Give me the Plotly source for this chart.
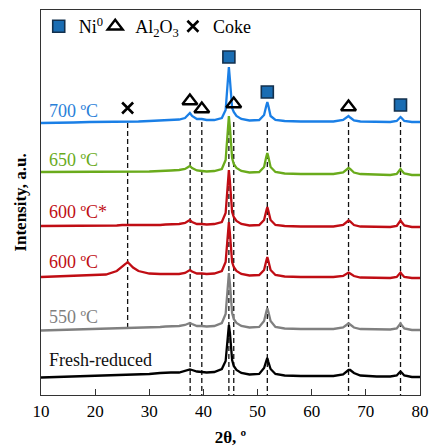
import plotly.graph_objects as go

# 2-theta sampling points (degrees)
two_theta = [10, 13, 16, 19, 22, 24, 25, 25.6, 26, 26.4, 27, 28, 30, 32, 33, 34, 35.5, 36.6, 37.2, 37.5,
             37.9, 38.8, 39.7, 40.6, 42, 43.4, 44.1, 44.5, 44.7, 44.9, 45.3, 45.6, 46.1, 47, 48.5, 50.3,
             51.2, 51.6, 51.8, 52.0, 52.4, 53.3, 55, 58, 61, 64, 65.8, 66.5, 66.8, 67.1, 67.8, 69, 72,
             74.5, 75.7, 76.2, 76.4, 76.6, 77.1, 78.5, 80]

# Stacked intensities (a.u., offset for display)
i_700 = [272, 272, 272.5, 273, 273, 273, 273, 273, 273, 273, 273, 273.5, 274, 274.5, 275, 275, 275.5, 277, 280, 282,
         279, 276, 276, 275, 275, 277, 285, 315, 328, 315, 287, 283, 279, 276, 274.5, 275,
         280, 289, 293, 289, 279, 275, 274, 273.5, 273.5, 273.5, 275, 278, 279, 277.5, 274.5, 273.5, 273,
         273, 274, 277, 278, 277, 274, 273, 273]
i_650 = [223, 223, 223, 223, 223, 223, 223, 223, 223, 223, 223, 223, 223.5, 224, 224, 224.5, 225, 226, 228, 229,
         227, 224.5, 224, 223.5, 224, 226, 235, 265, 279, 267, 237, 231, 227, 224, 222.5, 223,
         228, 238, 242, 238, 228, 223, 221.5, 221, 221, 221, 222.5, 225.5, 227, 226, 222.5, 221, 220.5,
         220, 221, 224.5, 226, 224.5, 221.5, 220, 220]
i_600s = [169, 169, 169, 169, 169, 169.5, 170, 170, 170, 170, 169.5, 169.5, 170, 170, 170.5, 170.5, 171, 172, 174, 175,
          173, 171, 171, 170.5, 171, 173, 182, 210, 225, 213, 183, 178, 174, 171, 169.5, 170,
          175, 184, 188, 184, 175, 170, 169, 168.5, 168.5, 168.5, 170, 173, 174.5, 173.5, 170, 168.5, 168,
          168, 169, 173, 174.5, 173, 169.5, 168, 168]
i_600 = [118, 118.5, 119, 119.5, 120.5, 124, 128, 131, 133, 131, 127.5, 124, 121.5, 121, 121, 121, 121, 122, 124, 125,
         123.5, 121.5, 121.5, 121, 121.5, 124, 133, 160, 173, 161, 133, 128, 124, 121, 119.5, 120,
         125, 134, 138, 134, 125, 120, 118.5, 118, 118, 118, 119, 121.5, 122.5, 121.5, 119, 117.5, 117,
         117, 118, 121, 122.5, 121, 118, 117, 117]
i_550 = [64.5, 65, 65.5, 66, 66, 66.5, 66.5, 66.5, 67, 67, 67, 67, 67.5, 68, 68.5, 68.5, 69, 70, 71.5, 72,
         71, 69, 69, 68.5, 69, 72, 81, 110, 122, 111, 82, 76, 72, 69, 67.5, 68,
         74, 83, 87, 83, 74, 68, 66.5, 66, 66, 66, 67.5, 70.5, 71.5, 70.5, 67.5, 66, 65.5,
         65.5, 66.5, 70, 71.5, 70, 66.5, 65, 65]
i_fresh = [17.5, 18, 18.5, 19, 19.5, 19.5, 19.5, 20, 20, 20, 20, 20, 21, 22, 22.5, 22.5, 22.5, 24, 25, 25.5,
           25, 23.5, 23, 22.5, 23, 26, 34, 60, 70, 62, 35, 29, 25, 22, 20.5, 21,
           27, 34, 37, 33, 26, 21, 19.5, 19, 19, 19, 20.5, 24, 25, 25, 22, 19.5, 18.5,
           18.5, 19.5, 22.5, 23.5, 22.5, 19.5, 18, 18]

series_names = ["700 ºC", "650 ºC", "600 ºC*", "600 ºC", "550 ºC", "Fresh-reduced"]
series_values = [i_700, i_650, i_600s, i_600, i_550, i_fresh]
series_colors = ["#1a7fe6", "#6aab1c", "#c00d14", "#c00d14", "#808080", "#000000"]
label_colors = ["#2a80d8", "#6aab1c", "#c00d14", "#c00d14", "#7f7f7f", "#111111"]
label_y = [284, 235, 183, 133, 78, 35]

# Reference peak positions (2theta) and the span of their guide lines
guide_x = [26.0, 37.55, 39.7, 44.7, 45.6, 51.8, 66.8, 76.4]
guide_top = [272, 273, 273, 273, 273, 273, 273, 273]
guide_bottom = [65, 0, 0, 0, 0, 0, 0, 0]

# Phase markers
ni_x = [44.7, 51.8, 76.4]
ni_y = [338, 303, 290]
al_x = [37.5, 39.7, 45.6, 66.8]
al_y = [294, 286, 291, 288]
coke_x = [26.0]
coke_y = [287]

FONT = "Liberation Serif, Times New Roman, Times, serif"
fig = go.Figure()

gx, gy = [], []
for x, t, b in zip(guide_x, guide_top, guide_bottom):
    gx += [x, x, None]
    gy += [t, b, None]
fig.add_trace(go.Scatter(x=gx, y=gy, mode="lines", showlegend=False, hoverinfo="skip",
                         line=dict(color="#111111", width=1.3, dash="5px,3px")))

for name, vals, col in zip(series_names, series_values, series_colors):
    fig.add_trace(go.Scatter(x=two_theta, y=vals, mode="lines", name=name, showlegend=False,
                             line=dict(color=col, width=2.3)))

fig.add_trace(go.Scatter(x=ni_x, y=ni_y, mode="markers", name="Ni<sup>0</sup>", legend="legend",
                         marker=dict(symbol="square", size=12, color="#1a6db3",
                                     line=dict(color="#13304d", width=1.6))))
fig.add_trace(go.Scatter(x=al_x, y=al_y, mode="markers", name="Al<sub>2</sub>O<sub>3</sub>", legend="legend2",
                         marker=dict(symbol="triangle-up-open", size=13, color="#000000",
                                     line=dict(color="#000000", width=2.4))))
fig.add_trace(go.Scatter(x=coke_x, y=coke_y, mode="markers", name="Coke", legend="legend3",
                         marker=dict(symbol="x-thin-open", size=11, color="#000000",
                                     line=dict(color="#000000", width=2.6))))

for name, col, y in zip(series_names, label_colors, label_y):
    fig.add_annotation(x=11.1, y=y, xref="x", yref="y", text=name, showarrow=False,
                       xanchor="left", yanchor="middle", font=dict(family=FONT, size=18, color=col))

leg_common = dict(orientation="h", yanchor="middle", y=0.957, xanchor="left",
                  bgcolor="rgba(0,0,0,0)", borderwidth=0,
                  font=dict(family=FONT, size=18, color="#000000"), itemwidth=30)
fig.update_layout(
    legend=dict(x=-0.006, **leg_common),
    legend2=dict(x=0.143, **leg_common),
    legend3=dict(x=0.348, **leg_common),
)

fig.update_layout(
    width=430, height=447,
    margin=dict(l=41, r=10, t=10, b=52, autoexpand=False),
    paper_bgcolor="white", plot_bgcolor="white",
    font=dict(family=FONT, size=17, color="#000000"),
    xaxis=dict(range=[10, 80], tickmode="array", tickvals=[10, 20, 30, 40, 50, 60, 70, 80],
               ticks="inside", ticklen=6, tickwidth=1, tickcolor="#333333",
               showline=True, linecolor="#333333", linewidth=1.3, mirror=True,
               showgrid=False, zeroline=False, automargin=False,
               tickfont=dict(family=FONT, size=17, color="#000000"),
               title=dict(text="<b>2θ, º</b>", font=dict(family=FONT, size=17), standoff=20)),
    yaxis=dict(range=[0, 385], showticklabels=False, ticks="",
               showline=True, linecolor="#333333", linewidth=1.3, mirror=True,
               showgrid=False, zeroline=False,
               title=dict(text="<b>Intensity, a.u.</b>", font=dict(family=FONT, size=17), standoff=8)),
)

fig.write_html("out.html")
